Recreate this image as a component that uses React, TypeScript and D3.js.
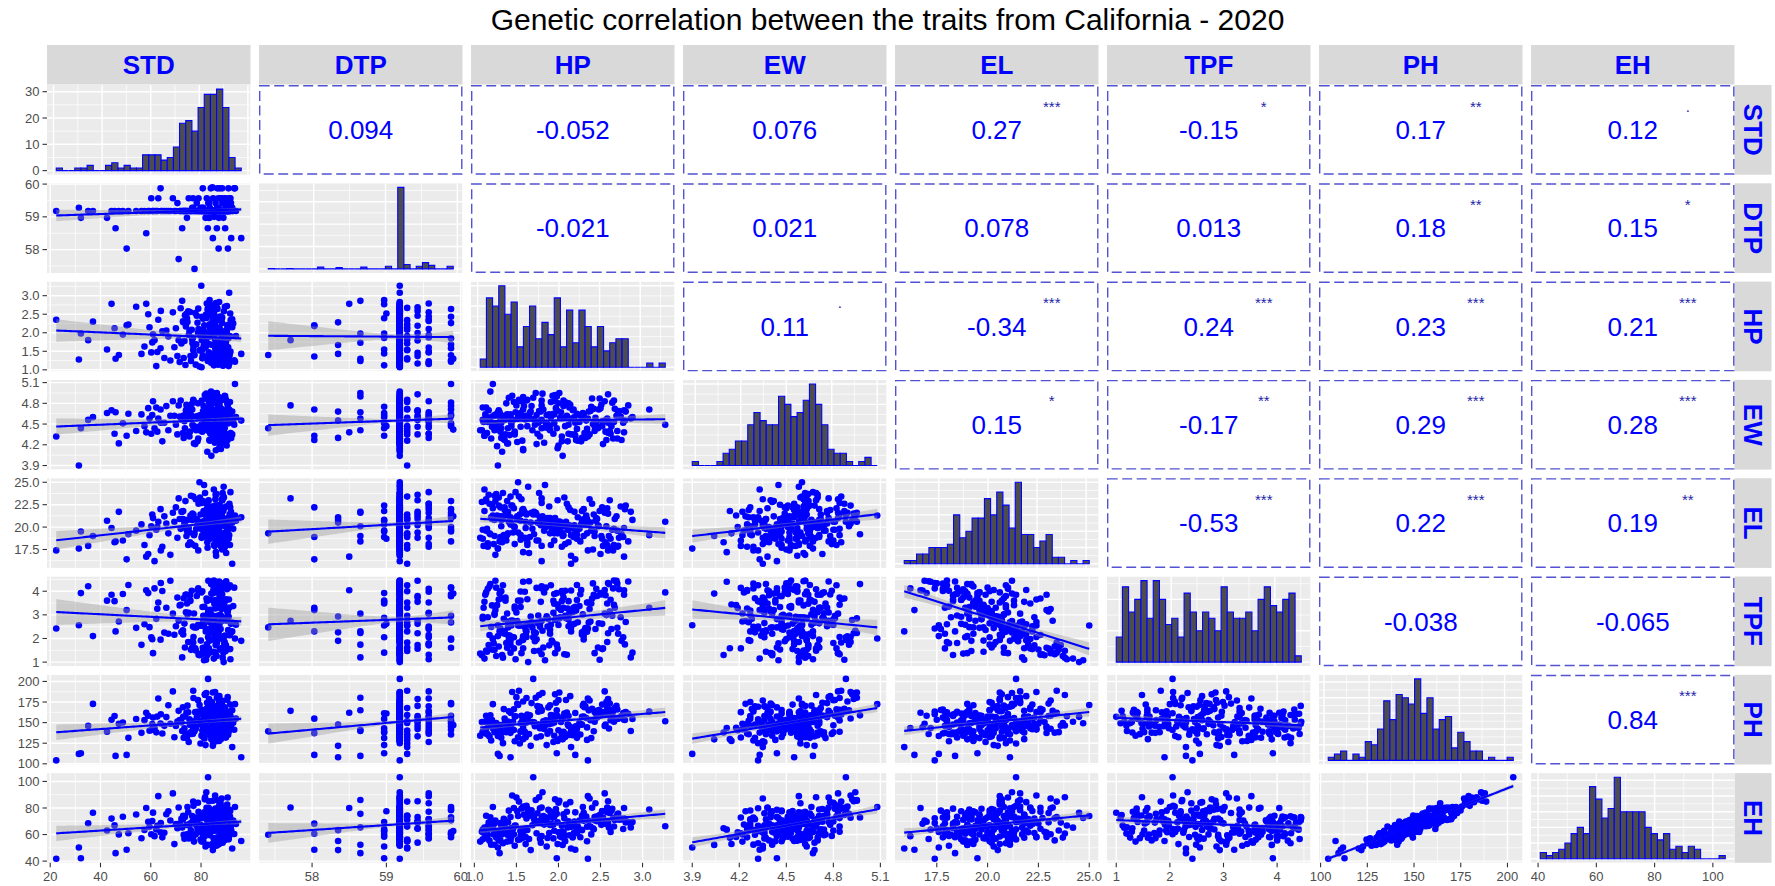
import React from 'react';
import * as d3 from 'd3';

// Trait order used for rows and columns of the pairs matrix
const traitNames = ['STD', 'DTP', 'HP', 'EW', 'EL', 'TPF', 'PH', 'EH'];

// One record per entry: [STD, DTP, HP, EW, EL, TPF, PH, EH]
const observations: number[][] = [
  [22.4, 59.18, 2.35, 4.32, 17.4, 2.42, 104.1, 41.8],
  [31.4, 59.28, 1.28, 3.90, 17.6, 2.56, 112.0, 50.2],
  [32.2, 58.97, 1.98, 4.44, 19.5, 3.92, 112.8, 42.1],
  [35.1, 59.18, 1.80, 4.56, 17.9, 4.21, 146.0, 68.5],
  [37.0, 59.18, 2.30, 4.60, 19.0, 2.10, 172.7, 76.4],
  [42.6, 58.97, 1.55, 4.66, 20.7, 3.60, 139.0, 63.1],
  [44.4, 59.18, 2.78, 4.70, 19.9, 3.85, 153.5, 72.0],
  [45.6, 59.18, 2.12, 4.36, 18.3, 3.58, 158.0, 66.9],
  [46.0, 58.65, 1.30, 4.67, 18.4, 2.30, 109.6, 46.0],
  [47.3, 59.18, 1.40, 4.22, 21.7, 2.72, 148.5, 60.1],
  [48.9, 59.18, 1.95, 4.51, 18.5, 3.88, 150.2, 73.4],
  [50.4, 58.03, 2.20, 4.33, 16.4, 3.20, 110.8, 48.6],
  [51.1, 59.18, 2.22, 4.65, 19.2, 4.26, 131.5, 61.0],
  [54.2, 59.18, 2.70, 4.40, 19.6, 2.45, 154.4, 75.1],
  [56.3, 59.18, 1.43, 4.64, 20.3, 1.73, 137.6, 57.2],
  [58.2, 58.50, 2.78, 4.38, 16.7, 4.04, 162.0, 80.0],
  [59.0, 59.18, 2.50, 4.73, 17.0, 3.92, 158.4, 69.6],
  [60.2, 59.57, 1.47, 4.36, 20.1, 2.05, 141.0, 60.2],
  [60.9, 59.18, 1.96, 4.83, 21.0, 1.38, 156.3, 76.5],
  [61.5, 59.18, 1.80, 4.44, 16.2, 4.12, 143.5, 58.8],
  [62.2, 59.18, 1.10, 4.74, 19.7, 2.83, 138.2, 63.8],
  [63.0, 59.57, 2.35, 4.58, 20.6, 3.52, 179.2, 88.9],
  [63.9, 59.87, 1.58, 4.71, 22.0, 1.95, 149.0, 61.7],
  [64.6, 59.18, 2.04, 4.25, 17.8, 4.01, 136.8, 57.9],
  [65.4, 59.18, 1.32, 4.52, 21.2, 2.25, 146.1, 61.4],
  [66.2, 59.18, 2.06, 4.76, 20.4, 3.30, 156.7, 75.3],
  [67.0, 59.18, 1.90, 4.41, 19.3, 2.20, 171.0, 77.5],
  [67.8, 59.18, 1.25, 4.62, 16.9, 4.44, 148.6, 70.6],
  [68.8, 59.57, 2.55, 4.83, 21.6, 3.05, 187.9, 91.0],
  [69.4, 59.18, 1.61, 4.62, 20.6, 2.16, 132.3, 52.8],
  [70.0, 59.18, 2.12, 4.49, 22.2, 2.52, 145.9, 67.9],
  [70.6, 59.42, 1.37, 4.35, 18.8, 3.73, 151.2, 64.7],
  [71.1, 57.71, 1.80, 4.77, 23.2, 2.75, 164.3, 80.4],
  [71.5, 59.18, 1.21, 4.61, 20.9, 3.40, 153.0, 68.2],
  [71.9, 59.18, 2.66, 4.84, 19.8, 3.43, 152.5, 66.1],
  [57.5, 59.18, 1.63, 4.47, 18.0, 2.60, 153.0, 63.4],
  [59.5, 59.18, 2.15, 4.58, 19.1, 2.48, 140.2, 65.8],
  [62.6, 59.18, 1.48, 4.39, 20.0, 3.26, 157.3, 66.5],
  [64.0, 59.18, 2.59, 4.52, 17.4, 4.35, 160.1, 68.7],
  [60.6, 59.18, 1.74, 4.63, 21.4, 1.97, 148.2, 70.2],
  [84.2, 59.18, 1.35, 4.28, 19.1, 2.83, 166.4, 71.8],
  [88.1, 59.18, 2.42, 4.72, 21.4, 3.85, 139.5, 63.9],
  [76.5, 59.28, 1.82, 4.71, 20.8, 1.62, 151.7, 74.0],
  [91.3, 59.57, 1.18, 4.55, 22.6, 2.15, 152.3, 64.4],
  [78.9, 59.18, 2.65, 4.29, 17.4, 4.12, 163.5, 72.2],
  [85.7, 59.18, 1.56, 4.83, 23.1, 1.38, 158.2, 79.6],
  [80.9, 59.28, 2.08, 4.47, 20.1, 2.96, 132.5, 54.9],
  [87.6, 59.18, 1.27, 4.18, 21.3, 3.41, 143.8, 58.2],
  [72.8, 59.18, 2.31, 4.37, 20.9, 2.35, 168.7, 71.4],
  [89.4, 59.18, 1.93, 4.91, 20.4, 1.85, 155.0, 72.7],
  [86.1, 59.18, 1.48, 4.35, 18.1, 3.35, 127.3, 51.6],
  [83.0, 58.97, 2.77, 4.52, 18.9, 2.05, 161.4, 64.2],
  [86.8, 59.18, 1.14, 4.74, 19.6, 3.95, 158.4, 74.2],
  [78.1, 59.18, 1.69, 4.41, 19.8, 2.47, 150.6, 67.0],
  [91.9, 59.42, 2.19, 4.60, 21.7, 2.62, 142.1, 69.8],
  [83.8, 59.18, 1.41, 4.88, 20.6, 1.94, 163.8, 78.0],
  [84.9, 59.18, 2.55, 4.55, 21.9, 4.05, 146.0, 68.6],
  [81.6, 59.18, 1.77, 4.69, 23.8, 1.48, 183.5, 88.1],
  [93.2, 59.87, 1.26, 4.49, 21.0, 4.15, 141.3, 60.4],
  [75.4, 59.18, 2.04, 4.32, 19.4, 3.58, 153.9, 66.6],
  [90.8, 59.18, 1.61, 4.57, 19.9, 2.36, 135.2, 58.1],
  [87.2, 59.18, 2.83, 4.77, 18.4, 4.41, 160.7, 69.4],
  [82.5, 59.18, 1.33, 4.10, 18.3, 1.30, 138.0, 64.8],
  [89.9, 59.57, 1.89, 4.64, 22.3, 1.71, 148.2, 61.2],
  [73.6, 59.18, 2.47, 4.44, 20.2, 1.62, 157.5, 73.3],
  [85.1, 59.18, 1.12, 4.33, 24.2, 1.15, 151.0, 65.2],
  [90.6, 59.18, 2.21, 4.27, 19.6, 3.18, 145.9, 65.7],
  [79.8, 59.28, 1.54, 4.59, 21.4, 2.54, 124.6, 56.3],
  [82.4, 59.18, 1.97, 4.73, 20.2, 2.88, 174.2, 79.2],
  [83.7, 59.18, 2.62, 4.36, 18.7, 3.64, 152.8, 62.0],
  [88.8, 59.18, 1.22, 4.50, 22.1, 1.98, 143.2, 66.7],
  [84.3, 59.18, 2.74, 4.61, 22.3, 2.90, 156.2, 72.1],
  [86.3, 58.65, 1.73, 4.95, 21.6, 2.23, 180.2, 86.0],
  [77.2, 59.18, 1.39, 4.22, 19.1, 3.06, 141.8, 54.7],
  [92.4, 59.18, 2.36, 4.68, 20.5, 2.67, 164.9, 70.3],
  [81.2, 59.18, 1.84, 4.45, 24.7, 1.08, 149.3, 72.5],
  [88.0, 59.57, 1.16, 4.53, 17.8, 4.10, 156.1, 66.2],
  [84.6, 59.18, 2.12, 4.80, 19.7, 2.81, 146.7, 69.9],
  [87.9, 59.18, 1.58, 4.14, 21.8, 1.59, 129.9, 57.6],
  [74.9, 59.18, 2.58, 4.58, 18.0, 1.85, 162.5, 76.8],
  [89.1, 59.18, 1.29, 4.70, 23.3, 1.66, 137.8, 55.6],
  [85.3, 59.18, 1.95, 4.64, 19.3, 3.47, 134.1, 62.9],
  [82.9, 59.42, 2.69, 4.62, 21.2, 4.44, 170.3, 73.1],
  [85.6, 59.18, 1.45, 4.91, 22.4, 2.06, 187.2, 89.4],
  [78.6, 59.18, 2.27, 4.25, 20.3, 4.05, 147.5, 63.6],
  [91.0, 59.18, 1.10, 4.56, 18.7, 2.92, 139.2, 56.4],
  [81.1, 59.18, 1.66, 4.66, 18.9, 2.58, 158.8, 74.2],
  [87.4, 59.87, 2.43, 4.47, 19.5, 3.79, 151.0, 70.7],
  [80.3, 59.18, 1.80, 4.84, 22.7, 1.33, 165.7, 72.4],
  [73.1, 59.18, 1.32, 4.30, 20.8, 3.70, 131.6, 59.8],
  [86.0, 59.18, 2.15, 4.57, 16.8, 4.03, 144.4, 68.1],
  [88.3, 59.18, 1.51, 4.24, 21.2, 2.74, 172.8, 77.6],
  [83.4, 58.97, 2.88, 4.60, 20.8, 1.40, 154.5, 69.5],
  [76.0, 59.18, 1.24, 4.63, 23.5, 1.52, 138.4, 63.0],
  [90.2, 59.18, 2.00, 4.19, 20.0, 3.29, 140.7, 61.7],
  [87.7, 59.18, 1.76, 4.52, 18.5, 2.97, 163.2, 68.9],
  [84.0, 59.18, 1.19, 4.97, 19.2, 4.30, 158.8, 72.9],
  [87.0, 59.28, 2.34, 4.43, 19.3, 3.52, 129.0, 55.0],
  [81.9, 59.18, 1.62, 4.60, 21.5, 2.30, 150.0, 72.1],
  [74.2, 59.18, 2.51, 4.78, 19.0, 3.86, 161.9, 67.3],
  [89.6, 59.18, 1.42, 4.34, 20.7, 2.12, 145.3, 64.0],
  [85.4, 59.18, 2.71, 4.65, 17.9, 2.20, 154.7, 75.9],
  [76.8, 59.57, 1.87, 4.48, 21.0, 2.51, 136.6, 57.4],
  [79.4, 59.18, 1.09, 4.41, 22.8, 1.29, 150.7, 62.1],
  [92.8, 59.18, 2.25, 4.53, 19.8, 3.37, 149.8, 70.6],
  [86.6, 59.18, 1.57, 4.26, 21.9, 1.93, 152.3, 63.1],
  [82.2, 59.18, 2.40, 4.87, 22.6, 3.69, 166.9, 80.2],
  [89.2, 59.18, 1.28, 4.67, 17.6, 2.10, 133.8, 61.9],
  [88.5, 59.42, 1.99, 4.69, 23.0, 1.57, 158.0, 69.2],
  [84.4, 59.18, 2.60, 4.37, 19.0, 4.30, 142.9, 65.4],
  [75.8, 59.18, 1.37, 4.58, 21.3, 3.60, 147.1, 61.3],
  [90.4, 59.18, 2.09, 4.81, 20.6, 2.86, 177.5, 82.6],
  [82.8, 59.18, 1.70, 4.88, 21.4, 2.05, 203.1, 103.2],
  [79.4, 59.18, 1.52, 4.60, 25.0, 2.55, 171.4, 74.0],
  [92.4, 59.28, 2.15, 4.35, 15.9, 2.30, 120.3, 49.5],
  [80.1, 59.18, 3.27, 4.49, 20.6, 3.95, 151.6, 66.3],
  [91.2, 59.18, 3.08, 4.71, 19.1, 3.30, 163.3, 78.9],
  [96.0, 58.35, 1.43, 4.55, 21.1, 1.90, 108.0, 55.1],
  [93.5, 59.87, 1.22, 5.08, 21.3, 2.00, 172.4, 80.7],
  [84.1, 59.18, 2.05, 4.04, 19.0, 3.90, 129.7, 52.2],
  [85.9, 59.18, 1.58, 4.12, 17.2, 4.40, 143.5, 63.7],
  [90.7, 58.03, 2.18, 4.71, 18.9, 3.30, 137.2, 60.6],
  [87.0, 58.03, 1.36, 4.27, 22.2, 2.30, 154.8, 68.2],
  [77.4, 57.41, 1.40, 4.44, 19.3, 2.47, 139.4, 59.8],
  [84.7, 58.35, 1.67, 4.68, 20.5, 2.93, 121.8, 48.3],
  [92.0, 58.35, 2.28, 4.30, 20.8, 2.26, 147.8, 63.3],
  [72.5, 58.65, 2.86, 4.58, 21.7, 1.20, 139.8, 65.4],
  [82.7, 58.65, 1.24, 4.41, 19.0, 3.05, 141.0, 52.3],
  [89.6, 58.65, 1.98, 4.90, 20.1, 1.74, 165.0, 75.6],
  [87.1, 58.97, 1.44, 4.51, 22.4, 2.55, 143.0, 58.4],
  [74.4, 58.97, 2.39, 4.75, 19.6, 3.48, 131.2, 60.1],
  [88.9, 58.97, 1.12, 4.33, 21.8, 3.55, 137.9, 62.5],
  [81.8, 58.97, 1.86, 4.63, 20.3, 2.87, 122.7, 51.0],
  [85.2, 59.00, 2.52, 4.47, 18.7, 2.62, 161.0, 77.5],
  [76.9, 59.28, 1.53, 4.85, 23.4, 1.83, 188.6, 84.8],
  [83.5, 59.28, 2.23, 4.26, 21.1, 2.69, 135.8, 66.0],
  [89.8, 59.28, 1.71, 4.57, 19.2, 1.47, 149.6, 74.3],
  [86.4, 59.28, 2.67, 4.72, 20.9, 3.30, 167.6, 71.0],
  [80.5, 59.28, 1.31, 4.39, 18.9, 4.00, 140.5, 55.6],
  [91.5, 59.28, 1.91, 4.82, 18.0, 4.25, 159.3, 73.7],
  [78.3, 59.42, 2.46, 4.46, 20.9, 3.80, 156.3, 70.0],
  [85.8, 59.42, 1.17, 4.70, 23.6, 1.72, 146.2, 69.0],
  [88.6, 59.42, 1.79, 4.68, 20.2, 3.55, 133.3, 53.9],
  [83.2, 59.42, 2.59, 4.93, 21.5, 2.22, 178.6, 85.1],
  [90.1, 59.42, 1.46, 4.56, 19.4, 2.75, 150.9, 64.4],
  [79.0, 59.57, 2.10, 4.62, 22.6, 1.31, 162.2, 77.2],
  [86.9, 59.57, 1.60, 4.57, 18.8, 3.98, 138.7, 63.2],
  [84.8, 59.57, 2.32, 4.30, 20.3, 2.44, 169.9, 71.5],
  [89.3, 59.57, 1.23, 4.45, 18.1, 1.80, 144.8, 60.0],
  [82.3, 59.57, 2.79, 4.55, 22.0, 1.75, 153.2, 71.6],
  [91.7, 59.57, 1.49, 4.67, 23.9, 1.12, 157.8, 66.8],
  [75.1, 59.57, 1.94, 4.36, 19.9, 3.09, 126.5, 57.1],
  [87.8, 59.57, 2.44, 4.59, 20.7, 2.40, 164.0, 83.6],
  [83.9, 59.87, 1.68, 4.76, 21.6, 2.68, 173.7, 78.3],
  [88.4, 59.87, 2.26, 4.62, 18.4, 3.87, 135.5, 58.0],
  [80.7, 59.87, 1.39, 4.64, 22.9, 1.61, 145.3, 60.0],
  [90.9, 59.87, 1.85, 4.51, 20.0, 4.15, 152.7, 73.0],
  [86.5, 59.87, 2.64, 4.81, 19.7, 2.96, 158.3, 79.4],
  [84.5, 59.90, 1.30, 4.42, 21.2, 3.90, 146.9, 62.7],
  [73.4, 59.18, 1.78, 4.54, 20.4, 2.63, 143.2, 56.9],
  [88.2, 59.18, 2.37, 4.35, 23.1, 3.25, 176.8, 87.2],
  [85.0, 59.18, 1.15, 4.37, 19.8, 1.44, 136.0, 57.3],
  [81.4, 59.18, 2.02, 4.59, 20.6, 2.90, 130.8, 58.5],
  [89.9, 59.18, 1.63, 4.85, 18.3, 3.66, 159.9, 79.5],
  [77.7, 59.18, 2.53, 4.21, 17.9, 1.58, 162.7, 72.8],
  [86.2, 59.18, 1.26, 4.64, 23.7, 1.26, 149.4, 57.7],
  [83.6, 59.18, 1.90, 4.48, 21.0, 2.37, 139.8, 67.2],
  [90.3, 59.18, 2.72, 4.69, 18.8, 4.08, 155.7, 71.2],
  [84.8, 59.18, 1.34, 4.32, 20.9, 4.25, 125.1, 53.5],
  [87.3, 59.18, 2.14, 4.78, 21.9, 2.60, 182.1, 84.4],
  [80.6, 59.18, 1.55, 4.46, 19.1, 3.33, 149.1, 62.3],
  [74.6, 59.18, 2.29, 4.66, 20.8, 3.02, 170.6, 80.8],
  [88.7, 59.18, 1.11, 4.53, 17.9, 3.30, 137.7, 61.4],
  [85.5, 59.18, 1.83, 4.23, 19.6, 3.95, 142.4, 67.5],
  [82.0, 59.18, 2.49, 4.87, 21.8, 1.10, 164.4, 74.7],
  [91.4, 59.18, 1.40, 4.62, 21.4, 2.14, 151.4, 69.3],
  [76.3, 59.18, 2.08, 4.79, 18.1, 4.02, 136.3, 59.0],
  [89.0, 59.18, 1.64, 4.58, 24.5, 1.00, 157.0, 76.4],
  [84.3, 59.18, 2.57, 4.27, 20.1, 2.99, 174.9, 78.1],
  [86.7, 59.18, 1.20, 4.29, 21.1, 2.49, 128.2, 52.4],
  [79.9, 59.18, 1.92, 4.63, 19.8, 1.91, 148.9, 67.4],
  [88.4, 59.18, 2.41, 4.50, 17.5, 4.33, 153.5, 64.7],
  [83.1, 59.18, 1.47, 4.82, 22.1, 1.58, 166.3, 80.0],
  [90.5, 59.18, 2.19, 4.35, 20.2, 3.16, 141.0, 61.6],
  [72.2, 59.18, 1.71, 4.57, 21.7, 2.27, 150.3, 71.8],
  [85.9, 59.18, 2.80, 4.68, 22.4, 2.70, 162.8, 69.1],
  [87.5, 59.18, 1.32, 4.44, 20.1, 4.00, 146.0, 66.9],
  [81.5, 59.18, 1.96, 4.92, 20.7, 2.78, 184.3, 86.5],
  [89.7, 59.18, 1.52, 4.59, 19.4, 3.60, 132.1, 56.0],
  [84.6, 59.18, 2.33, 4.55, 21.3, 2.31, 155.6, 73.5],
  [77.9, 59.18, 1.14, 4.61, 23.1, 1.49, 142.6, 60.2],
  [88.0, 59.18, 2.06, 4.84, 19.1, 3.73, 138.9, 62.1],
  [86.1, 59.18, 1.75, 4.36, 20.5, 2.65, 170.0, 76.0],
  [82.6, 59.18, 2.63, 4.47, 17.7, 2.40, 165.4, 78.0],
  [91.1, 59.18, 1.29, 4.65, 22.4, 3.65, 141.5, 57.9],
  [74.0, 59.18, 2.17, 4.70, 19.9, 3.11, 134.6, 57.8],
  [87.1, 59.18, 1.58, 4.89, 21.6, 2.09, 175.6, 81.0],
  [85.3, 59.18, 2.45, 4.52, 21.0, 4.10, 160.3, 73.5],
  [80.2, 59.18, 1.07, 4.41, 18.8, 1.36, 134.2, 54.7],
  [89.4, 59.18, 1.88, 4.44, 20.3, 2.82, 168.5, 78.7],
  [83.3, 59.18, 2.75, 4.27, 19.2, 1.90, 157.9, 71.4],
  [86.9, 59.18, 1.36, 4.56, 21.9, 2.20, 149.4, 71.0],
  [78.8, 59.18, 2.00, 4.80, 20.6, 2.57, 177.3, 84.0],
  [90.0, 59.18, 1.65, 4.61, 17.1, 4.42, 136.1, 56.6],
  [84.9, 59.18, 2.30, 4.63, 22.0, 1.96, 157.4, 70.4],
  [87.6, 59.18, 1.24, 4.48, 20.8, 3.00, 143.7, 68.4],
  [82.1, 59.18, 1.81, 4.94, 21.2, 2.33, 185.9, 91.8],
  [75.6, 59.18, 2.56, 4.39, 18.3, 3.83, 147.6, 68.2],
  [88.9, 59.18, 1.43, 4.60, 23.4, 1.40, 162.0, 73.2],
  [85.7, 59.18, 2.11, 4.25, 19.7, 3.27, 148.0, 65.3],
  [81.0, 59.18, 1.59, 4.76, 21.8, 2.52, 156.9, 75.0],
  [91.6, 59.18, 2.52, 4.54, 22.2, 1.55, 171.9, 77.7],
  [86.4, 59.18, 1.18, 4.57, 19.3, 4.20, 133.0, 55.4],
  [83.8, 59.18, 2.03, 4.67, 20.0, 3.21, 150.7, 61.9],
  [76.6, 59.18, 1.72, 4.49, 21.5, 1.88, 145.6, 69.7],
  [89.5, 59.18, 2.70, 4.29, 17.8, 4.32, 166.0, 72.8],
  [84.2, 59.18, 1.31, 4.57, 22.2, 2.42, 142.0, 68.7],
  [87.2, 59.18, 1.99, 4.15, 19.3, 3.44, 127.8, 52.9],
  [80.8, 59.18, 2.38, 4.69, 20.5, 2.72, 153.0, 66.0],
  [90.6, 59.18, 1.50, 4.77, 21.0, 3.10, 180.9, 87.9],
  [85.6, 59.18, 2.22, 4.43, 18.7, 3.63, 142.7, 64.1],
  [73.8, 59.18, 1.13, 4.64, 22.9, 3.85, 137.4, 58.2],
  [88.1, 59.18, 1.86, 4.51, 20.4, 2.94, 147.6, 70.9],
  [83.0, 59.18, 2.61, 4.40, 23.0, 3.14, 173.1, 76.2],
  [86.3, 59.18, 1.38, 4.80, 18.5, 1.81, 138.3, 63.0],
  [79.6, 59.18, 2.07, 4.59, 23.3, 1.33, 160.9, 72.2],
  [89.9, 59.18, 1.74, 4.21, 18.5, 4.14, 131.9, 60.9],
  [84.1, 59.18, 2.48, 4.71, 20.1, 2.64, 165.3, 73.9],
  [87.4, 59.18, 1.21, 4.46, 22.5, 1.53, 149.0, 68.3],
  [82.4, 59.18, 1.94, 4.65, 19.6, 3.59, 158.5, 67.6],
  [91.8, 59.18, 2.34, 4.37, 20.9, 2.29, 144.2, 65.9],
  [77.0, 59.18, 1.62, 4.84, 21.4, 2.06, 179.8, 81.6],
  [85.1, 59.18, 2.66, 4.53, 18.0, 4.45, 151.1, 72.7],
  [88.6, 59.18, 1.34, 4.62, 23.8, 1.19, 146.5, 60.7],
  [83.5, 59.18, 2.13, 4.74, 20.2, 3.07, 135.0, 59.5],
  [86.8, 59.18, 1.78, 4.32, 21.1, 2.50, 169.2, 79.8],
  [80.4, 59.18, 2.43, 4.40, 19.0, 1.38, 163.0, 73.1],
  [90.2, 59.18, 1.16, 4.58, 18.2, 2.90, 135.9, 59.8],
  [84.7, 59.18, 2.01, 4.95, 20.6, 2.85, 186.5, 85.5],
  [87.9, 59.18, 1.55, 4.63, 18.6, 3.99, 139.6, 58.9],
  [72.9, 59.18, 2.28, 4.62, 21.8, 2.17, 157.2, 74.1],
  [85.4, 59.18, 1.44, 4.47, 20.3, 2.76, 148.7, 64.9],
  [89.1, 59.18, 2.58, 4.38, 22.1, 3.48, 168.2, 80.3],
  [82.9, 59.18, 1.25, 4.42, 22.9, 3.20, 143.4, 61.5],
  [93.9, 59.18, 1.91, 4.60, 20.7, 2.58, 154.9, 67.9],
  [81.3, 59.18, 2.20, 4.52, 19.4, 3.34, 161.6, 76.7],
];

// Histogram counts (30 bins spanning each trait's range)
const stdCounts = [1, 0, 0, 1, 1, 2, 0, 0, 2, 3, 1, 2, 1, 1, 6, 6, 6, 4, 5, 9, 18, 19, 15, 24, 29, 29, 31, 24, 5, 1];
const dtpCounts = [1, 0, 0, 1, 0, 0, 0, 0, 4, 0, 0, 3, 0, 0, 0, 4, 0, 0, 0, 6, 0, 182, 10, 0, 6, 14, 8, 0, 0, 6];
const hpCounts = [2, 17, 15, 20, 13, 16, 5, 10, 15, 7, 11, 8, 17, 5, 14, 6, 14, 10, 5, 10, 4, 6, 7, 7, 0, 0, 0, 1, 0, 1];
const ewCounts = [1, 0, 0, 0, 1, 3, 4, 6, 6, 10, 13, 11, 10, 10, 17, 15, 12, 13, 16, 20, 15, 10, 4, 3, 3, 1, 0, 1, 2, 0];
const elCounts = [1, 1, 3, 3, 5, 5, 5, 6, 15, 8, 10, 14, 14, 20, 15, 22, 18, 11, 25, 9, 9, 5, 7, 9, 2, 2, 0, 1, 0, 1];
const tpfCounts = [4, 12, 8, 10, 13, 7, 13, 10, 6, 7, 4, 11, 8, 5, 8, 7, 5, 12, 8, 7, 7, 8, 5, 10, 12, 9, 8, 10, 11, 1];
const phCounts = [1, 2, 3, 0, 2, 1, 6, 5, 10, 19, 13, 21, 20, 18, 26, 15, 20, 10, 13, 14, 4, 9, 6, 3, 3, 0, 1, 0, 0, 1];
const ehCounts = [2, 1, 2, 3, 5, 8, 10, 8, 23, 19, 13, 16, 26, 15, 15, 15, 15, 10, 8, 6, 8, 3, 4, 2, 4, 3, 0, 0, 0, 1];
const histCounts = [stdCounts, dtpCounts, hpCounts, ewCounts, elCounts, tpfCounts, phCounts, ehCounts];

// Axis breaks per trait
const stdTicks = [20, 40, 60, 80];
const dtpTicks = [58, 59, 60];
const hpTicks = [1.0, 1.5, 2.0, 2.5, 3.0];
const ewTicks = [3.9, 4.2, 4.5, 4.8, 5.1];
const elTicks = [17.5, 20.0, 22.5, 25.0];
const tpfTicks = [1, 2, 3, 4];
const phTicks = [100, 125, 150, 175, 200];
const ehTicks = [40, 60, 80, 100];
const traitTicks = [stdTicks, dtpTicks, hpTicks, ewTicks, elTicks, tpfTicks, phTicks, ehTicks];
const tickDecimals = [0, 0, 1, 1, 1, 0, 0, 0];
const stdCountTicks = [0, 10, 20, 30];

// Upper-triangle correlation labels and significance marks
const corrText = [
  ['', '0.094', '-0.052', '0.076', '0.27', '-0.15', '0.17', '0.12'],
  ['', '', '-0.021', '0.021', '0.078', '0.013', '0.18', '0.15'],
  ['', '', '', '0.11', '-0.34', '0.24', '0.23', '0.21'],
  ['', '', '', '', '0.15', '-0.17', '0.29', '0.28'],
  ['', '', '', '', '', '-0.53', '0.22', '0.19'],
  ['', '', '', '', '', '', '-0.038', '-0.065'],
  ['', '', '', '', '', '', '', '0.84'],
];
const corrSig = [
  ['', '', '', '', '***', '*', '**', '.'],
  ['', '', '', '', '', '', '**', '*'],
  ['', '', '', '.', '***', '***', '***', '***'],
  ['', '', '', '', '*', '**', '***', '***'],
  ['', '', '', '', '', '***', '***', '**'],
  ['', '', '', '', '', '', '', ''],
  ['', '', '', '', '', '', '', '***'],
];

const chartTitle = 'Genetic correlation between the traits from California - 2020';

// Layout
const WIDTH = 1775;
const HEIGHT = 886;
const LEFT = 47;
const TOP = 85;
const PANEL_W = 203.5;
const PANEL_H = 89.7;
const COL_STEP = 212;
const ROW_STEP = 98.3;
const STRIP_Y = 45;
const STRIP_H = 39.5;
const STRIP_W = 37;

const FONT = "'Liberation Sans', Arial, Helvetica, sans-serif";
const BLUE = '#0000FF';
const PANEL_BG = '#EBEBEB';
const STRIP_BG = '#D9D9D9';
const AXIS_TEXT = '#4D4D4D';
const TICK_COLOR = '#333333';

const colX = (j: number) => LEFT + j * COL_STEP;
const rowY = (i: number) => TOP + i * ROW_STEP;

function expand(lo: number, hi: number): [number, number] {
  const d = hi - lo;
  return [lo - 0.05 * d, hi + 0.05 * d];
}

function gridValues(ticks: number[], domain: [number, number]) {
  const step = ticks[1] - ticks[0];
  const majors: number[] = [];
  const minors: number[] = [];
  for (let k = -4; k <= ticks.length + 3; k++) {
    const v = ticks[0] + k * step;
    const m = v + step / 2;
    if (v >= domain[0] && v <= domain[1]) majors.push(v);
    if (m >= domain[0] && m <= domain[1]) minors.push(m);
  }
  return { majors, minors };
}

function linearFit(xs: number[], ys: number[]) {
  const n = xs.length;
  const mx = d3.mean(xs) as number;
  const my = d3.mean(ys) as number;
  let sxx = 0;
  let sxy = 0;
  for (let k = 0; k < n; k++) {
    sxx += (xs[k] - mx) ** 2;
    sxy += (xs[k] - mx) * (ys[k] - my);
  }
  const b = sxy / sxx;
  const a = my - b * mx;
  let sse = 0;
  for (let k = 0; k < n; k++) sse += (ys[k] - a - b * xs[k]) ** 2;
  const s = Math.sqrt(sse / (n - 2));
  const t = 1.9697;
  const [lo, hi] = d3.extent(xs) as [number, number];
  return d3.range(80).map((k) => {
    const x = lo + ((hi - lo) * k) / 79;
    const y = a + b * x;
    const se = s * Math.sqrt(1 / n + (x - mx) ** 2 / sxx);
    return { x, y, lo: y - t * se, hi: y + t * se };
  });
}

export default function App() {
  const n = traitNames.length;
  const columns = traitNames.map((_, k) => observations.map((r) => r[k]));
  const extents = columns.map((c) => d3.extent(c) as [number, number]);
  const dataDomains = extents.map(([lo, hi]) => expand(lo, hi));
  const binWidths = extents.map(([lo, hi]) => (hi - lo) / 29);
  const histDomains = extents.map(([lo, hi], k) => expand(lo - binWidths[k] / 2, hi + binWidths[k] / 2));

  const xScatter = (j: number) => d3.scaleLinear().domain(dataDomains[j]).range([colX(j), colX(j) + PANEL_W]);
  const yScatter = (i: number) => d3.scaleLinear().domain(dataDomains[i]).range([rowY(i) + PANEL_H, rowY(i)]);
  const xHist = (k: number) => d3.scaleLinear().domain(histDomains[k]).range([colX(k), colX(k) + PANEL_W]);
  const yCount = (k: number) => {
    const m = d3.max(histCounts[k]) as number;
    return d3.scaleLinear().domain([-0.05 * m, 1.05 * m]).range([rowY(k) + PANEL_H, rowY(k)]);
  };

  const panels: React.ReactNode[] = [];
  const clips: React.ReactNode[] = [];

  for (let i = 0; i < n; i++) {
    for (let j = 0; j < n; j++) {
      const x0 = colX(j);
      const y0 = rowY(i);
      const key = `p-${i}-${j}`;
      clips.push(
        <clipPath id={`clip-${i}-${j}`} key={`c-${i}-${j}`}>
          <rect x={x0} y={y0} width={PANEL_W} height={PANEL_H} />
        </clipPath>
      );

      if (j > i) {
        // correlation panel
        const cx = x0 + PANEL_W / 2;
        const cy = y0 + PANEL_H / 2;
        panels.push(
          <g key={key}>
            <rect
              x={x0 + 0.7}
              y={y0 + 0.7}
              width={PANEL_W - 1.4}
              height={PANEL_H - 1.4}
              fill="#FFFFFF"
              stroke="#5252D2"
              strokeWidth={1.4}
              strokeDasharray="10,4.5"
            />
            <text x={cx} y={cy + 9.3} textAnchor="middle" fontFamily={FONT} fontSize={26} fill={BLUE}>
              {corrText[i][j]}
            </text>
            {corrSig[i][j] && (
              <text x={cx + 55} y={y0 + 26.5} textAnchor="middle" fontFamily={FONT} fontSize={15} fill="#2323A8">
                {corrSig[i][j]}
              </text>
            )}
          </g>
        );
        continue;
      }

      if (i === j) {
        // histogram panel
        const sx = xHist(j);
        const sy = yCount(j);
        const counts = histCounts[j];
        const m = d3.max(counts) as number;
        const xg = gridValues(traitTicks[j], histDomains[j]);
        const yg = gridValues(d3.ticks(0, m, 4), sy.domain() as [number, number]);
        const start = extents[j][0] - binWidths[j] / 2;
        panels.push(
          <g key={key} clipPath={`url(#clip-${i}-${j})`}>
            <rect x={x0} y={y0} width={PANEL_W} height={PANEL_H} fill={PANEL_BG} />
            {xg.minors.map((v) => (
              <line key={`xm${v}`} x1={sx(v)} x2={sx(v)} y1={y0} y2={y0 + PANEL_H} stroke="#FFFFFF" strokeWidth={0.7} />
            ))}
            {yg.minors.map((v) => (
              <line key={`ym${v}`} x1={x0} x2={x0 + PANEL_W} y1={sy(v)} y2={sy(v)} stroke="#FFFFFF" strokeWidth={0.7} />
            ))}
            {xg.majors.map((v) => (
              <line key={`xM${v}`} x1={sx(v)} x2={sx(v)} y1={y0} y2={y0 + PANEL_H} stroke="#FFFFFF" strokeWidth={1.4} />
            ))}
            {yg.majors.map((v) => (
              <line key={`yM${v}`} x1={x0} x2={x0 + PANEL_W} y1={sy(v)} y2={sy(v)} stroke="#FFFFFF" strokeWidth={1.4} />
            ))}
            {counts.map((c, k) => {
              const a = sx(start + k * binWidths[j]);
              const b = sx(start + (k + 1) * binWidths[j]);
              const base = sy(0);
              const top = sy(c);
              return (
                <path
                  key={`b${k}`}
                  d={`M${a},${base}V${top}H${b}V${base}Z`}
                  fill="#4D4D4D"
                  stroke={BLUE}
                  strokeWidth={1.1}
                />
              );
            })}
          </g>
        );
        continue;
      }

      // scatter panel with linear fit and 95% band
      const sx = xScatter(j);
      const sy = yScatter(i);
      const xg = gridValues(traitTicks[j], dataDomains[j]);
      const yg = gridValues(traitTicks[i], dataDomains[i]);
      const fit = linearFit(columns[j], columns[i]);
      const band = d3
        .area<{ x: number; lo: number; hi: number }>()
        .x((p) => sx(p.x))
        .y0((p) => sy(p.lo))
        .y1((p) => sy(p.hi))(fit);
      const line = d3
        .line<{ x: number; y: number }>()
        .x((p) => sx(p.x))
        .y((p) => sy(p.y))(fit);
      panels.push(
        <g key={key} clipPath={`url(#clip-${i}-${j})`}>
          <rect x={x0} y={y0} width={PANEL_W} height={PANEL_H} fill={PANEL_BG} />
          {xg.minors.map((v) => (
            <line key={`xm${v}`} x1={sx(v)} x2={sx(v)} y1={y0} y2={y0 + PANEL_H} stroke="#FFFFFF" strokeWidth={0.7} />
          ))}
          {yg.minors.map((v) => (
            <line key={`ym${v}`} x1={x0} x2={x0 + PANEL_W} y1={sy(v)} y2={sy(v)} stroke="#FFFFFF" strokeWidth={0.7} />
          ))}
          {xg.majors.map((v) => (
            <line key={`xM${v}`} x1={sx(v)} x2={sx(v)} y1={y0} y2={y0 + PANEL_H} stroke="#FFFFFF" strokeWidth={1.4} />
          ))}
          {yg.majors.map((v) => (
            <line key={`yM${v}`} x1={x0} x2={x0 + PANEL_W} y1={sy(v)} y2={sy(v)} stroke="#FFFFFF" strokeWidth={1.4} />
          ))}
          {observations.map((r, k) => (
            <circle key={k} cx={sx(r[j])} cy={sy(r[i])} r={3.3} fill={BLUE} />
          ))}
          <path d={band || ''} fill="#999999" fillOpacity={0.4} />
          <path d={line || ''} fill="none" stroke={BLUE} strokeWidth={2.1} />
        </g>
      );
    }
  }

  // Axes: left (rows) and bottom (columns)
  const axes: React.ReactNode[] = [];
  for (let i = 0; i < n; i++) {
    const sy = i === 0 ? yCount(0) : yScatter(i);
    const ticks = i === 0 ? stdCountTicks : traitTicks[i];
    const dec = i === 0 ? 0 : tickDecimals[i];
    const dom = sy.domain() as [number, number];
    ticks
      .filter((v) => v >= dom[0] && v <= dom[1])
      .forEach((v) => {
        const y = sy(v);
        axes.push(
          <g key={`ly-${i}-${v}`}>
            <line x1={LEFT - 4.5} x2={LEFT} y1={y} y2={y} stroke={TICK_COLOR} strokeWidth={1.1} />
            <text x={LEFT - 7.5} y={y + 4.6} textAnchor="end" fontFamily={FONT} fontSize={13} fill={AXIS_TEXT}>
              {v.toFixed(dec)}
            </text>
          </g>
        );
      });
  }
  const bottom = rowY(n - 1) + PANEL_H;
  for (let j = 0; j < n; j++) {
    const sx = j === n - 1 ? xHist(j) : xScatter(j);
    const dom = sx.domain() as [number, number];
    traitTicks[j]
      .filter((v) => v >= dom[0] && v <= dom[1])
      .forEach((v) => {
        const x = sx(v);
        axes.push(
          <g key={`bx-${j}-${v}`}>
            <line x1={x} x2={x} y1={bottom} y2={bottom + 4.5} stroke={TICK_COLOR} strokeWidth={1.1} />
            <text x={x} y={bottom + 18} textAnchor="middle" fontFamily={FONT} fontSize={13} fill={AXIS_TEXT}>
              {v.toFixed(tickDecimals[j])}
            </text>
          </g>
        );
      });
  }

  const stripRight = colX(n - 1) + PANEL_W;

  return (
    <svg
      width={WIDTH}
      height={HEIGHT}
      viewBox={`0 0 ${WIDTH} ${HEIGHT}`}
      style={{ position: 'absolute', left: 0, top: 0, background: '#FFFFFF' }}
    >
      <defs>{clips}</defs>
      <rect x={0} y={0} width={WIDTH} height={HEIGHT} fill="#FFFFFF" />
      <text x={WIDTH / 2} y={30} textAnchor="middle" fontFamily={FONT} fontSize={30} fill="#000000">
        {chartTitle}
      </text>
      {traitNames.map((t, j) => (
        <g key={`st-${t}`}>
          <rect x={colX(j)} y={STRIP_Y} width={PANEL_W} height={STRIP_H} fill={STRIP_BG} />
          <text
            x={colX(j) + PANEL_W / 2}
            y={STRIP_Y + STRIP_H / 2 + 9.3}
            textAnchor="middle"
            fontFamily={FONT}
            fontSize={26}
            fontWeight="bold"
            fill={BLUE}
          >
            {t}
          </text>
        </g>
      ))}
      {traitNames.map((t, i) => (
        <g key={`sr-${t}`}>
          <rect x={stripRight} y={rowY(i)} width={STRIP_W} height={PANEL_H} fill={STRIP_BG} />
          <text
            transform={`translate(${stripRight + STRIP_W / 2 - 9.3},${rowY(i) + PANEL_H / 2}) rotate(90)`}
            textAnchor="middle"
            fontFamily={FONT}
            fontSize={26}
            fontWeight="bold"
            fill={BLUE}
          >
            {t}
          </text>
        </g>
      ))}
      {panels}
      {axes}
    </svg>
  );
}
